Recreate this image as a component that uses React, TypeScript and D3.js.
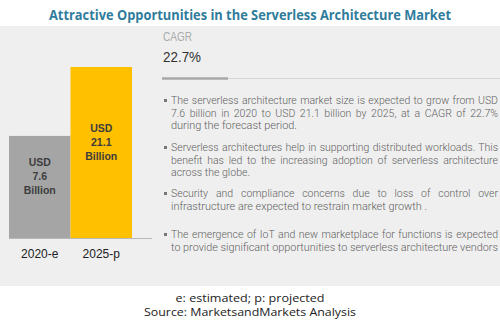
import React, { useLayoutEffect, useRef } from "react";
import * as d3 from "d3";

const title = "Attractive Opportunities in the Serverless Architecture Market";
const categories = ["2020-e", "2025-p"];
const values = [7.6, 21.1];
const barLabels = [["USD", "7.6", "Billion"], ["USD", "21.1", "Billion"]];
const cagrLabel = "CAGR";
const cagrValue = "22.7%";
const bullets = [
  ["The serverless architecture market size is expected to grow from USD", "7.6 billion in 2020 to USD 21.1 billion by 2025, at a CAGR of 22.7%", "during the forecast period."],
  ["Serverless architectures help in supporting distributed workloads. This", "benefit has led to the increasing adoption of serverless architecture", "across the globe."],
  ["Security and compliance concerns due to loss of control over", "infrastructure are expected to restrain market growth ."],
  ["The emergence of IoT and new marketplace for functions is expected", "to provide significant opportunities to serverless architecture vendors"],
];
const lastLineWidths = [126, 79, 256, 327];
const footnotes = ["e: estimated; p: projected", "Source: MarketsandMarkets Analysis"];
const footnoteWidths = [149, 212];

function JustLine({ x, y, text, width, justify }: { x: number; y: number; text: string; width: number; justify: boolean }) {
  const ref = useRef<SVGTextElement>(null);
  useLayoutEffect(() => {
    const el = ref.current;
    if (!el) return;
    el.removeAttribute("textLength");
    el.style.wordSpacing = "0px";
    const natural = el.getComputedTextLength();
    const spaces = (text.match(/ /g) || []).length;
    if (justify && natural < width && spaces > 0) {
      el.style.wordSpacing = `${(width - natural) / spaces}px`;
    } else {
      el.setAttribute("textLength", String(width));
      el.setAttribute("lengthAdjust", "spacingAndGlyphs");
    }
  }, [text, width, justify]);
  return (
    <text ref={ref} x={x} y={y} fontFamily="'Roboto', sans-serif" fontWeight={300} fontSize={10.5} fill="#5f5f5f">{text}</text>
  );
}

export default function App() {
  const W = 500, H = 330;
  const x = d3.scaleBand<string>().domain(categories).range([9, 132]).padding(0);
  const y = d3.scaleLinear().domain([-12.4, 21.1]).range([238, 67]);
  const colors = ["#a5a5a5", "#ffc000"];
  const bulletTops = [104, 151, 197, 238];
  const lineH = 12.5;
  const textX = 171;
  const fullW = 327;
  return (
    <svg width={W} height={H} style={{ position: "absolute", left: 0, top: 0, display: "block" }}>
      <rect x={0} y={0} width={W} height={H} fill="#ffffff" />
      <rect x={0} y={26} width={W} height={260} fill="#efefef" />
      <text x={250} y={20} textAnchor="middle" fontFamily="'Open Sans', sans-serif" fontWeight="bold" fontSize={13.5} fill="#2f7c9c" textLength={402} lengthAdjust="spacingAndGlyphs">{title}</text>
      {categories.map((c, i) => {
        const x0 = x(c)!;
        const top = y(values[i]);
        const bottom = y(-12.4);
        const mid = (top + bottom) / 2;
        return (
          <g key={c}>
            <rect x={x0} y={top} width={x.bandwidth()} height={bottom - top} fill={colors[i]} />
            {barLabels[i].map((t, j) => (
              <text key={j} x={x0 + x.bandwidth() / 2} y={mid - 21 + j * 14} textAnchor="middle" fontFamily="'Liberation Sans', Arial, sans-serif" fontWeight="bold" fontSize={10.5} fill="#3d3d3d">{t}</text>
            ))}
            <text x={x0 + x.bandwidth() / 2} y={258} textAnchor="middle" fontFamily="'Liberation Sans', Arial, sans-serif" fontSize={12} fill="#222">{c}</text>
          </g>
        );
      })}
      <line x1={9} x2={152} y1={238.5} y2={238.5} stroke="#b8b8b8" strokeWidth={1} />
      <text x={163} y={41} fontFamily="'Liberation Sans Narrow', 'Liberation Sans', sans-serif" fontSize={12} fill="#ababab" textLength={29} lengthAdjust="spacingAndGlyphs">{cagrLabel}</text>
      <text x={163} y={62} fontFamily="'Liberation Sans', Arial, sans-serif" fontSize={14.5} fill="#333" textLength={38} lengthAdjust="spacingAndGlyphs">{cagrValue}</text>
      <line x1={228} x2={500} y1={78.5} y2={78.5} stroke="#d6d6d6" strokeWidth={1} />
      <line x1={162} x2={228} y1={78.5} y2={78.5} stroke="#a8a8a8" strokeWidth={2.5} />
      {bullets.map((lines, b) => (
        <g key={b}>
          <rect x={164} y={bulletTops[b] - 5} width={3} height={3} fill="#777" />
          {lines.map((t, j) => {
            const last = j === lines.length - 1;
            const w = last ? lastLineWidths[b] : fullW;
            return <JustLine key={j} x={textX} y={bulletTops[b] + j * lineH} text={t} width={w} justify={!last} />;
          })}
        </g>
      ))}
      {footnotes.map((t, i) => (
        <text key={i} x={250} y={302 + i * 14} textAnchor="middle" fontFamily="'Open Sans', sans-serif" fontSize={11.5} fill="#222" textLength={footnoteWidths[i]} lengthAdjust="spacingAndGlyphs">{t}</text>
      ))}
    </svg>
  );
}
